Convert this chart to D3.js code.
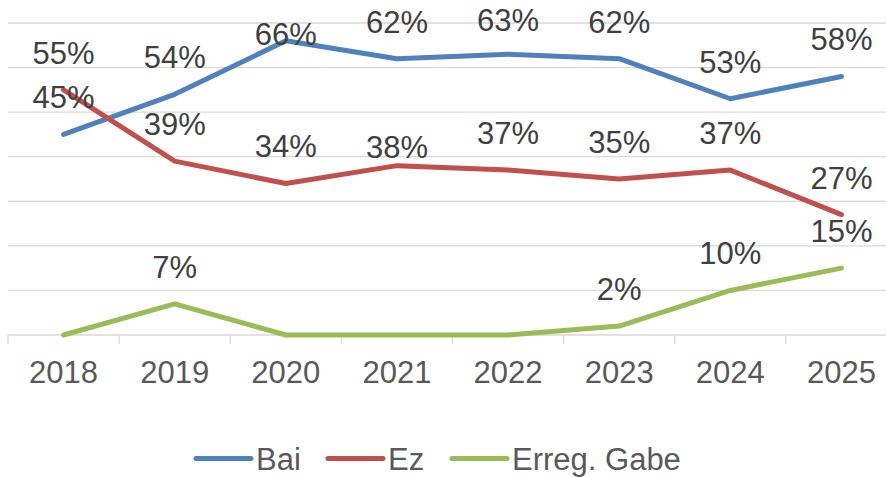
<!DOCTYPE html>
<html>
<head>
<meta charset="utf-8">
<script src="https://cdn.jsdelivr.net/npm/d3@7"></script>
<style>
  html, body { margin: 0; padding: 0; background: #fff; }
  svg { display: block; font-family: 'Liberation Sans', Arial, sans-serif; }
</style>
</head>
<body>
<svg id="chart" width="886" height="477"></svg>
<script>
const years = ['2018', '2019', '2020', '2021', '2022', '2023', '2024', '2025'];
const bai = [45, 54, 66, 62, 63, 62, 53, 58];
const ez = [55, 39, 34, 38, 37, 35, 37, 27];
const erregGabe = [0, 7, 0, 0, 0, 2, 10, 15];
const yTicks = [0, 10, 20, 30, 40, 50, 60, 70];

const series = [
  { name: 'Bai', values: bai, color: '#4f81bd' },
  { name: 'Ez', values: ez, color: '#c0504d' },
  { name: 'Erreg. Gabe', values: erregGabe, color: '#9bbb59' }
];

// hand-moved labels in the original (baseline shift from the point)
const labelShift = { 'Bai-2': 4, 'Bai-4': -23, 'Ez-3': -8 };

const svg = d3.select('#chart');

const x = d3
  .scaleBand()
  .domain(years)
  .range([8, 897]);

const y = d3
  .scaleLinear()
  .domain([0, 70])
  .range([335, 23]);

const cx = d => x(d) + x.bandwidth() / 2;

// gridlines
svg.append('g')
  .selectAll('line')
  .data(yTicks)
  .join('line')
  .attr('x1', 8)
  .attr('x2', 897)
  .attr('y1', d => y(d))
  .attr('y2', d => y(d))
  .attr('stroke', '#d9d9d9')
  .attr('stroke-width', 1.3);

// category axis
const xAxis = svg.append('g')
  .attr('transform', `translate(0,${y(0)})`)
  .call(d3.axisBottom(x).tickSize(0).tickFormat(d => d));
xAxis.select('.domain').remove();
xAxis.selectAll('text')
  .attr('y', 48)
  .attr('dy', 0)
  .attr('fill', '#595959')
  .attr('font-size', 31)
  .attr('font-family', "'Liberation Sans', Arial, sans-serif");

svg.append('g')
  .selectAll('line')
  .data(years)
  .join('line')
  .attr('x1', d => x(d))
  .attr('x2', d => x(d))
  .attr('y1', y(0))
  .attr('y2', y(0) + 9)
  .attr('stroke', '#d9d9d9')
  .attr('stroke-width', 1.3);

// lines
const line = d3.line()
  .x((_, i) => cx(years[i]))
  .y(d => y(d));

svg.append('g')
  .selectAll('path')
  .data(series)
  .join('path')
  .attr('d', s => line(s.values))
  .attr('fill', 'none')
  .attr('stroke', s => s.color)
  .attr('stroke-width', 5)
  .attr('stroke-linejoin', 'round')
  .attr('stroke-linecap', 'round');

// data labels (zeros are hidden)
const labels = series.flatMap(s => s.values.map((v, i) => ({ name: s.name, v, i })))
  .filter(d => d.v !== 0);

svg.append('g')
  .selectAll('text')
  .data(labels)
  .join('text')
  .attr('x', d => cx(years[d.i]))
  .attr('y', d => y(d.v) + (labelShift[`${d.name}-${d.i}`] ?? -26))
  .attr('text-anchor', 'middle')
  .attr('fill', '#404040')
  .attr('font-size', 31)
  .text(d => `${d.v}%`);

// legend (nudged up a little so descenders stay inside the frame)
const legendX = [196, 328, 452];
const legend = svg.append('g')
  .selectAll('g')
  .data(series)
  .join('g')
  .attr('transform', (_, i) => `translate(${legendX[i]},458.5)`);

legend.append('line')
  .attr('x1', 0)
  .attr('x2', 55)
  .attr('stroke', s => s.color)
  .attr('stroke-width', 5)
  .attr('stroke-linecap', 'round');

legend.append('text')
  .attr('x', 60)
  .attr('y', 11.5)
  .attr('fill', '#595959')
  .attr('font-size', 31)
  .text(s => s.name);
</script>
</body>
</html>
